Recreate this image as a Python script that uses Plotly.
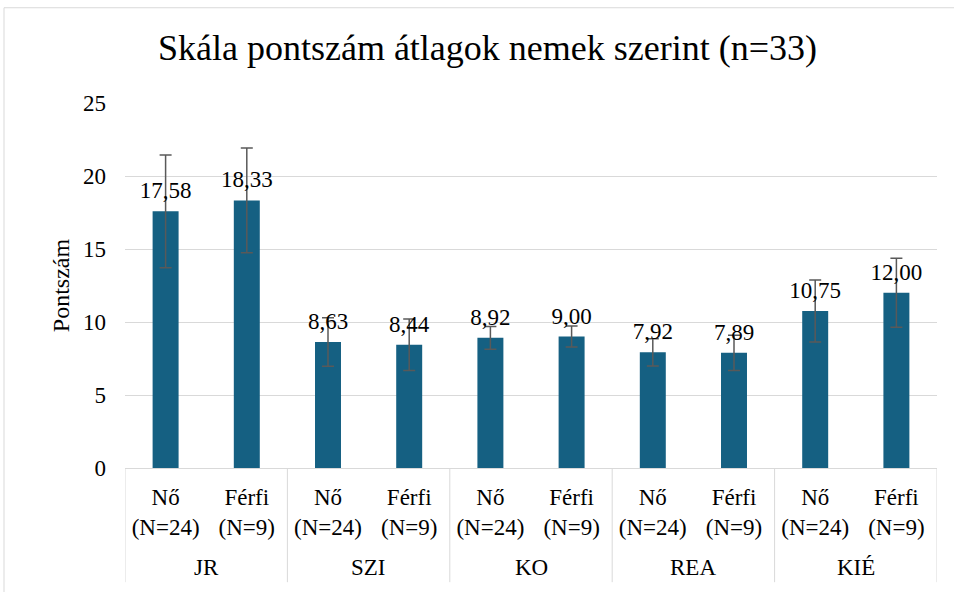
import plotly.graph_objects as go

groups = ["JR", "JR", "SZI", "SZI", "KO", "KO", "REA", "REA", "KIÉ", "KIÉ"]
subgroups = ["Nő<br>(N=24)", "Férfi<br>(N=9)"] * 5
means = [17.58, 18.33, 8.63, 8.44, 8.92, 9.00, 7.92, 7.89, 10.75, 12.00]
errors = [3.86, 3.59, 1.66, 1.76, 0.78, 0.72, 0.93, 1.21, 2.12, 2.36]
y_ticks = [0, 5, 10, 15, 20, 25]

FONT = "Liberation Serif, Times New Roman, serif"
BAR = "#156082"
GRID = "#d9d9d9"

W, H = 954, 592
L, R, T, B = 125, 937, 102.5, 468.5

xpos = list(range(len(means)))

fig = go.Figure()
fig.add_trace(go.Bar(
    x=xpos, y=means,
    marker=dict(color=BAR, line=dict(width=0)),
    error_y=dict(type="data", array=errors, visible=True,
                 color="#595959", thickness=1.5, width=6),
    hoverinfo="skip", showlegend=False,
))
fig.add_trace(go.Scatter(
    x=xpos, y=means, mode="markers+text",
    marker=dict(size=10, opacity=0),
    text=[f"{v:.2f}".replace(".", ",") for v in means],
    textposition="top center",
    textfont=dict(family=FONT, size=23, color="#000000"),
    cliponaxis=False, hoverinfo="skip", showlegend=False,
))

def px_x(p):
    return (p - L) / (R - L)

def px_y(p):
    return (B - p) / (B - T)

# chart-area border (top and left edges visible)
fig.add_shape(type="line", xref="paper", yref="paper",
              x0=px_x(4), x1=px_x(960), y0=px_y(7), y1=px_y(7),
              line=dict(color=GRID, width=1))
fig.add_shape(type="line", xref="paper", yref="paper",
              x0=px_x(4), x1=px_x(4), y0=px_y(7), y1=px_y(600),
              line=dict(color=GRID, width=1))

# group dividers and group labels
bounds = [-0.5]
for i in range(1, len(groups)):
    if groups[i] != groups[i - 1]:
        bounds.append(i - 0.5)
bounds.append(len(groups) - 0.5)
for bx in bounds:
    fig.add_shape(type="line", xref="x", yref="paper",
                  x0=bx, x1=bx, y0=0, y1=px_y(583),
                  line=dict(color=GRID, width=1))
seen = []
for g in groups:
    if g not in seen:
        seen.append(g)
for g in seen:
    idx = [i for i, gg in enumerate(groups) if gg == g]
    fig.add_annotation(x=sum(idx) / len(idx), xref="x", y=px_y(568), yref="paper",
                       text=g, showarrow=False, xanchor="center", yanchor="middle",
                       font=dict(family=FONT, size=23, color="#000000"))

fig.update_layout(
    width=W, height=H,
    margin=dict(l=L, r=W - R, t=T, b=H - B, pad=0),
    paper_bgcolor="white", plot_bgcolor="white",
    font=dict(family=FONT, size=23, color="#000000"),
    title=dict(text="Skála pontszám átlagok nemek szerint (n=33)",
               font=dict(family=FONT, size=36, color="#000000"),
               x=487.5 / W, xanchor="center", y=1 - 47 / H, yanchor="middle"),
    bargap=0.68,
    xaxis=dict(range=[-0.5, len(means) - 0.5], tickvals=xpos, ticktext=subgroups,
               showgrid=False, showline=True, linecolor=GRID, linewidth=1,
               ticks="", zeroline=False, ticklabelstandoff=8,
               tickfont=dict(family=FONT, size=23, color="#000000")),
    yaxis=dict(range=[0, 25], tickvals=y_ticks, showgrid=True, gridcolor=GRID,
               gridwidth=1, zeroline=False, showline=False, ticks="",
               ticklabelstandoff=18,
               tickfont=dict(family=FONT, size=23, color="#000000"),
               title=dict(text="Pontszám", font=dict(family=FONT, size=24, color="#000000"),
                          standoff=6)),
    separators=", ",
)

fig.write_html("out.html", config={"displayModeBar": False},
               post_script="document.body.style.margin='0';")
